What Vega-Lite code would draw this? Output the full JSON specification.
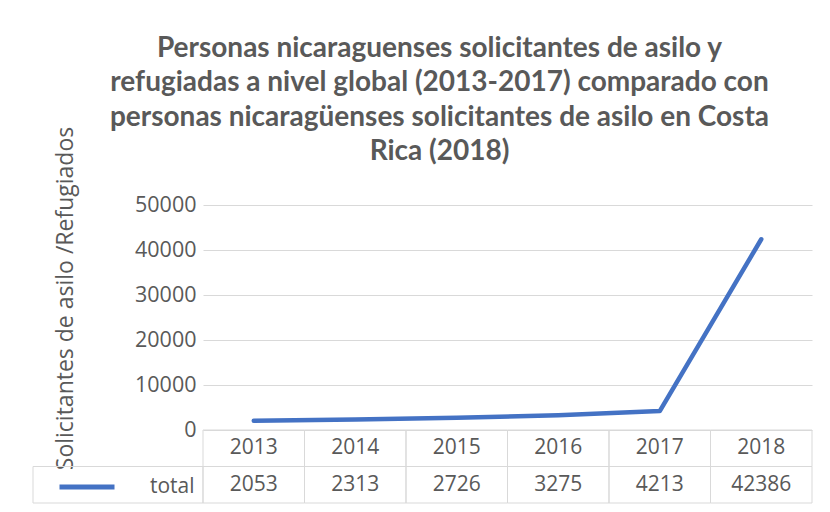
{
  "$schema": "https://vega.github.io/schema/vega-lite/v6.json",
  "autosize": {"type": "none"},
  "width": 609,
  "height": 298,
  "padding": {"left": 203, "top": 205, "right": 18, "bottom": 9},
  "background": "white",
  "config": {"view": {"stroke": null}, "font": "Open Sans"},
  "title": {
    "text": [
      "Personas nicaraguenses solicitantes de asilo y",
      "refugiadas a nivel global (2013-2017) comparado con",
      "personas  nicaragüenses solicitantes de asilo en Costa",
      "Rica (2018)"
    ],
    "font": "Lato",
    "fontSize": 28,
    "fontWeight": "bold",
    "color": "#595959",
    "anchor": "middle",
    "frame": "group",
    "dx": -68,
    "offset": -40,
    "lineHeight": 34.5
  },
  "data": {
    "values": [
      {"year": "2013", "total": 2053},
      {"year": "2014", "total": 2313},
      {"year": "2015", "total": 2726},
      {"year": "2016", "total": 3275},
      {"year": "2017", "total": 4213},
      {"year": "2018", "total": 42386}
    ]
  },
  "layer": [
    {
      "mark": {"type": "line", "strokeWidth": 4.5, "strokeCap": "round", "strokeJoin": "round"},
      "encoding": {
        "x": {"field": "year", "type": "ordinal", "bandPosition": 0.5, "scale": {"type": "band", "paddingInner": 0, "paddingOuter": 0}, "axis": null},
        "y": {
          "field": "total",
          "type": "quantitative",
          "scale": {"domain": [0, 50000], "range": [225, 0], "nice": false},
          "axis": {
            "values": [0, 10000, 20000, 30000, 40000, 50000],
            "format": "d",
            "grid": true,
            "gridColor": "#d9d9d9",
            "gridWidth": 1,
            "domain": false,
            "ticks": false,
            "labelFont": "Open Sans",
            "labelFontSize": 21.5,
            "labelColor": "#595959",
            "labelPadding": 7,
            "title": "Solicitantes de asilo /Refugiados",
            "titleFont": "Open Sans",
            "titleFontSize": 23,
            "titleFontWeight": "normal",
            "titleColor": "#595959",
            "titleAngle": -90,
            "titleX": -138,
            "titleY": 93,
            "titleAlign": "center",
            "titleBaseline": "middle"
          }
        },
        "color": {
          "datum": "total",
          "type": "nominal",
          "scale": {"range": ["#4472c4"]},
          "legend": {
            "orient": "none",
            "legendX": -146,
            "legendY": 252,
            "title": null,
            "symbolType": "stroke",
            "symbolSize": 3025,
            "symbolStrokeWidth": 5,
            "labelFont": "Open Sans",
            "labelFontSize": 21,
            "labelColor": "#595959",
            "labelOffset": 33,
            "padding": 0
          }
        }
      }
    },
    {
      "layer": [
        {
          "mark": {"type": "rect", "fill": "transparent", "stroke": "#d9d9d9", "strokeWidth": 1},
          "encoding": {
            "x": {"field": "year", "type": "ordinal", "scale": {"type": "band", "paddingInner": 0, "paddingOuter": 0}, "axis": null},
            "y": {"datum": "h", "type": "ordinal", "scale": {"type": "band", "domain": ["h", "t"], "range": [225, 298], "paddingInner": 0, "paddingOuter": 0}, "axis": null}
          }
        },
        {
          "mark": {"type": "rect", "fill": "transparent", "stroke": "#d9d9d9", "strokeWidth": 1},
          "encoding": {
            "x": {"field": "year", "type": "ordinal"},
            "y": {"datum": "t", "type": "ordinal"}
          }
        },
        {
          "mark": {"type": "text", "font": "Open Sans", "fontSize": 21, "color": "#595959", "baseline": "middle"},
          "encoding": {
            "x": {"field": "year", "type": "ordinal", "bandPosition": 0.5},
            "y": {"datum": "h", "type": "ordinal", "bandPosition": 0.5},
            "text": {"field": "year"}
          }
        },
        {
          "mark": {"type": "text", "font": "Open Sans", "fontSize": 21, "color": "#595959", "baseline": "middle"},
          "encoding": {
            "x": {"field": "year", "type": "ordinal", "bandPosition": 0.5},
            "y": {"datum": "t", "type": "ordinal", "bandPosition": 0.5},
            "text": {"field": "total"}
          }
        }
      ]
    },
    {
      "transform": [{"filter": "datum.year == '2013'"}],
      "mark": {"type": "rect", "fill": "transparent", "stroke": "#d9d9d9", "strokeWidth": 1},
      "encoding": {
        "x": {"datum": "leyenda", "type": "nominal", "scale": {"type": "band", "domain": ["leyenda"], "range": [-170, 0], "paddingInner": 0, "paddingOuter": 0}, "axis": null},
        "y": {"datum": "t", "type": "ordinal", "scale": {"type": "band", "domain": ["h", "t"], "range": [225, 298], "paddingInner": 0, "paddingOuter": 0}, "axis": null}
      }
    }
  ],
  "resolve": {"scale": {"x": "independent", "y": "independent", "color": "independent"}}
}
